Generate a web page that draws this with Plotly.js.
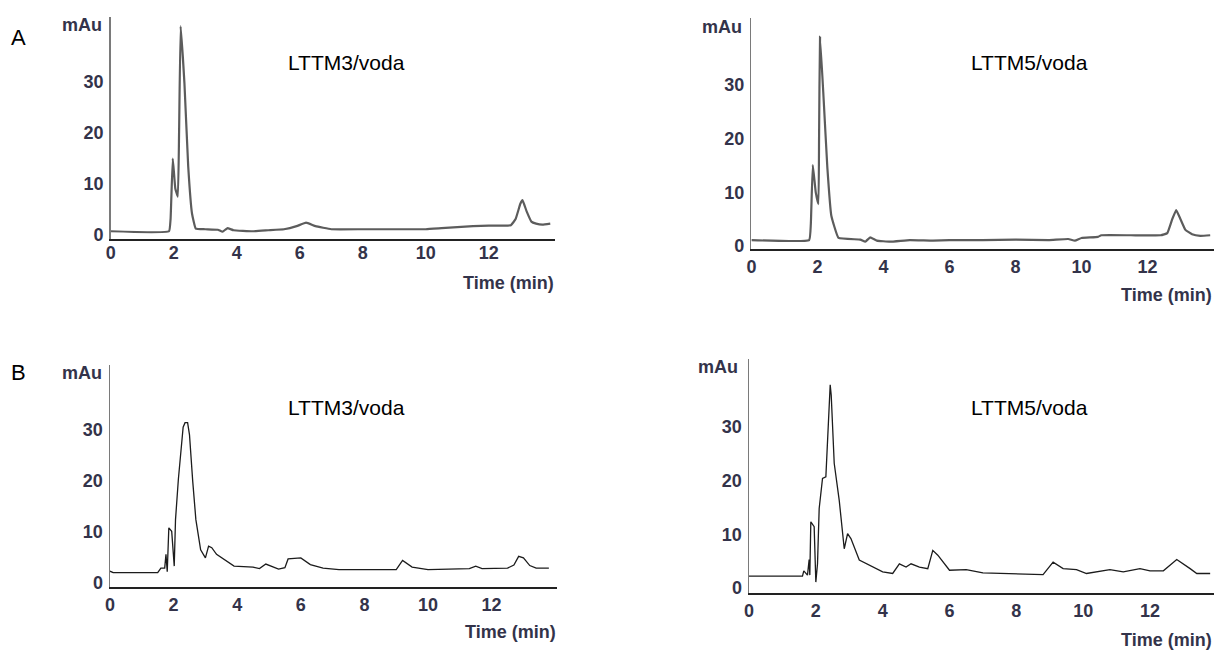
<!DOCTYPE html>
<html>
<head>
<meta charset="utf-8">
<script src="https://cdn.plot.ly/plotly-3.0.1.min.js"></script>
<style>html,body{margin:0;padding:0;background:#fff;}#chart{width:1216px;height:650px;}</style>
</head>
<body>
<div id="chart"></div>
<script>
// ---- Data ----
const xTickVals = [0, 2, 4, 6, 8, 10, 12];
const yTickVals = [0, 10, 20, 30];
const sampleLabels = ["LTTM3/voda", "LTTM5/voda", "LTTM3/voda", "LTTM5/voda"];
const panelLetters = ["A", "B"];
const yUnit = "mAu";
const xUnit = "Time (min)";

const aLeftTime   = [0, 1.85, 1.9, 1.97, 2.05, 2.13, 2.17, 2.22, 2.34, 2.46, 2.58, 2.7, 3.0, 3.4, 3.55, 3.7, 3.9, 4.5, 5.0, 5.5, 5.9, 6.2, 6.5, 7.0, 8.0, 9.0, 10.0, 10.5, 11.0, 11.5, 12.0, 12.7, 12.85, 13.0, 13.07, 13.2, 13.35, 13.5, 13.7, 13.95];
const aLeftSignal = [0.6, 0.6, 3.0, 14.9, 9.0, 7.4, 20.0, 40.9, 29.7, 13.3, 4.1, 1.1, 1.0, 0.9, 0.5, 1.2, 0.8, 0.6, 0.8, 1.0, 1.6, 2.3, 1.6, 1.0, 1.0, 1.0, 1.0, 1.2, 1.4, 1.6, 1.7, 1.8, 3.0, 6.0, 6.7, 4.5, 2.5, 2.1, 1.9, 2.1];

const aRightTime   = [0, 1.75, 1.8, 1.86, 1.95, 2.03, 2.05, 2.08, 2.19, 2.3, 2.42, 2.64, 3.3, 3.45, 3.6, 3.8, 4.2, 4.8, 5.5, 6.0, 7.0, 8.0, 9.0, 9.6, 9.8, 10.0, 10.5, 10.6, 11.5, 12.4, 12.6, 12.75, 12.87, 13.0, 13.15, 13.35, 13.6, 13.9];
const aRightSignal = [1.1, 1.1, 4.0, 15.1, 10.0, 7.8, 20.0, 39.0, 27.2, 14.7, 5.7, 1.5, 1.2, 0.8, 1.6, 1.0, 0.8, 1.1, 1.0, 1.1, 1.1, 1.2, 1.1, 1.3, 1.0, 1.5, 1.7, 2.0, 2.0, 2.0, 2.4, 5.0, 6.7, 5.0, 3.0, 2.2, 1.9, 2.0];

const bLeftTime   = [0, 0.1, 1.5, 1.6, 1.72, 1.76, 1.8, 1.85, 1.94, 2.02, 2.06, 2.15, 2.3, 2.36, 2.44, 2.5, 2.6, 2.7, 2.85, 3.0, 3.1, 3.2, 3.35, 3.6, 3.9, 4.5, 4.7, 4.9, 5.3, 5.5, 5.6, 6.0, 6.3, 6.7, 7.2, 9.0, 9.2, 9.5, 10.0, 11.3, 11.5, 11.7, 12.5, 12.7, 12.85, 13.0, 13.2, 13.4, 13.8];
const bLeftSignal = [2.3, 2.0, 2.0, 2.9, 2.9, 5.6, 2.2, 10.8, 10.1, 3.3, 12.4, 20.3, 30.5, 31.4, 31.4, 29.0, 20.0, 12.4, 6.5, 4.9, 7.2, 6.9, 5.6, 4.6, 3.3, 3.1, 2.8, 3.7, 2.7, 3.0, 4.7, 4.9, 3.6, 2.9, 2.6, 2.6, 4.4, 3.1, 2.6, 2.8, 3.3, 2.8, 2.9, 3.5, 5.2, 4.9, 3.4, 2.9, 2.9];

const bRightTime   = [0, 1.6, 1.64, 1.75, 1.8, 1.82, 1.85, 1.95, 2.0, 2.05, 2.1, 2.2, 2.3, 2.38, 2.43, 2.46, 2.55, 2.7, 2.85, 2.95, 3.05, 3.3, 3.6, 4.0, 4.3, 4.5, 4.7, 4.85, 5.1, 5.35, 5.5, 5.65, 6.0, 6.5, 7.0, 8.8, 9.1, 9.4, 9.8, 10.1, 10.8, 11.2, 11.7, 12.0, 12.4, 12.8, 13.2, 13.4, 13.8];
const bRightSignal = [2.2, 2.2, 3.2, 2.4, 5.3, 2.4, 12.3, 11.4, 1.1, 4.5, 14.8, 20.4, 20.7, 31.9, 37.8, 35.9, 23.2, 16.3, 7.3, 10.1, 9.2, 5.2, 4.2, 3.0, 2.7, 4.5, 3.9, 4.5, 3.9, 3.6, 7.0, 6.1, 3.3, 3.4, 2.8, 2.5, 4.8, 3.6, 3.4, 2.7, 3.4, 3.0, 3.6, 3.2, 3.2, 5.3, 3.6, 2.7, 2.7];

// ---- Layout helpers ----
const W = 1216, H = 650;
const px = v => v / W;
const py = v => 1 - v / H;
const FONT = "Liberation Sans, Arial, sans-serif";
const tickColor = "#33334a";
const tickFont = {family: FONT, size: 18, color: tickColor, weight: 600};

const panels = [
  {t: aLeftTime,  s: aLeftSignal,  color: "#5c5c5c", width: 2.2, shape: "spline", xd: [110.7, 555], yd: [239, 17], xr: [0, 14.1], yr: [-0.92, 42.7]},
  {t: aRightTime, s: aRightSignal, color: "#5c5c5c", width: 2.2, shape: "spline", xd: [751.4, 1213.5], yd: [249, 18], xr: [0, 14.0], yr: [-0.56, 42.5]},
  {t: bLeftTime,  s: bLeftSignal,  color: "#1c1c1c", width: 1.3, shape: "linear", xd: [110, 556.5], yd: [587, 365], xr: [0, 14.04], yr: [-0.8, 42.7]},
  {t: bRightTime, s: bRightSignal, color: "#1c1c1c", width: 1.3, shape: "linear", xd: [749, 1213.5], yd: [593, 359], xr: [0, 13.9], yr: [-0.93, 42.6]}
];

const data = [];
const layout = {
  width: W, height: H,
  margin: {l: 0, r: 0, t: 0, b: 0},
  paper_bgcolor: "#fff", plot_bgcolor: "rgba(0,0,0,0)",
  showlegend: false,
  font: {family: FONT, color: tickColor},
  annotations: []
};

panels.forEach((p, i) => {
  const n = i === 0 ? "" : String(i + 1);
  data.push({
    x: p.t, y: p.s, type: "scatter", mode: "lines",
    xaxis: "x" + n, yaxis: "y" + n,
    line: {color: p.color, width: p.width, shape: p.shape, smoothing: 0.3},
    hoverinfo: "skip"
  });
  layout["xaxis" + n] = {
    domain: [px(p.xd[0]), px(p.xd[1])], range: p.xr, anchor: "y" + n,
    tickvals: xTickVals, ticks: "", showgrid: false, zeroline: false,
    showline: true, linecolor: "#222", linewidth: 2,
    tickfont: tickFont,
    fixedrange: true
  };
  layout["yaxis" + n] = {
    domain: [py(p.yd[0]), py(p.yd[1])], range: p.yr, anchor: "x" + n,
    tickvals: yTickVals, ticks: "", showgrid: false, zeroline: false,
    showline: true, linecolor: "#7a7a7a", linewidth: 1.5,
    tickfont: tickFont,
    ticklabelstandoff: 2,
    fixedrange: true
  };
});

// text labels
const sampleCenters = [[346, 63], [1029, 63], [346, 407], [1029, 407]];
sampleLabels.forEach((txt, i) => {
  layout.annotations.push({text: txt, xref: "paper", yref: "paper",
    x: px(sampleCenters[i][0]), y: py(sampleCenters[i][1]), xanchor: "center", yanchor: "middle",
    showarrow: false, font: {family: FONT, size: 21, color: "#000"}});
});
const letterPos = [[18, 37], [18, 372]];
panelLetters.forEach((txt, i) => {
  layout.annotations.push({text: txt, xref: "paper", yref: "paper",
    x: px(letterPos[i][0]), y: py(letterPos[i][1]), xanchor: "center", yanchor: "middle",
    showarrow: false, font: {family: FONT, size: 22, color: "#000"}});
});
const unitPos = [[104, 25], [744, 27], [104, 373], [740, 367]];
unitPos.forEach(pos => {
  layout.annotations.push({text: yUnit, xref: "paper", yref: "paper",
    x: px(pos[0]), y: py(pos[1]), xanchor: "right", yanchor: "middle",
    showarrow: false, font: tickFont});
});
const timePos = [[556, 283], [1214, 295], [558, 632], [1214, 640]];
timePos.forEach(pos => {
  layout.annotations.push({text: xUnit, xref: "paper", yref: "paper",
    x: px(pos[0]), y: py(pos[1]), xanchor: "right", yanchor: "middle",
    showarrow: false, font: tickFont});
});

Plotly.newPlot("chart", data, layout, {displayModeBar: false, staticPlot: true}).then(() => {
  // nudge x tick labels up slightly to match reference spacing
  document.querySelectorAll(".xtick text").forEach(t => {
    const y = parseFloat(t.getAttribute("y") || "0");
    t.setAttribute("y", String(y - 4));
  });
});
</script>
</body>
</html>
